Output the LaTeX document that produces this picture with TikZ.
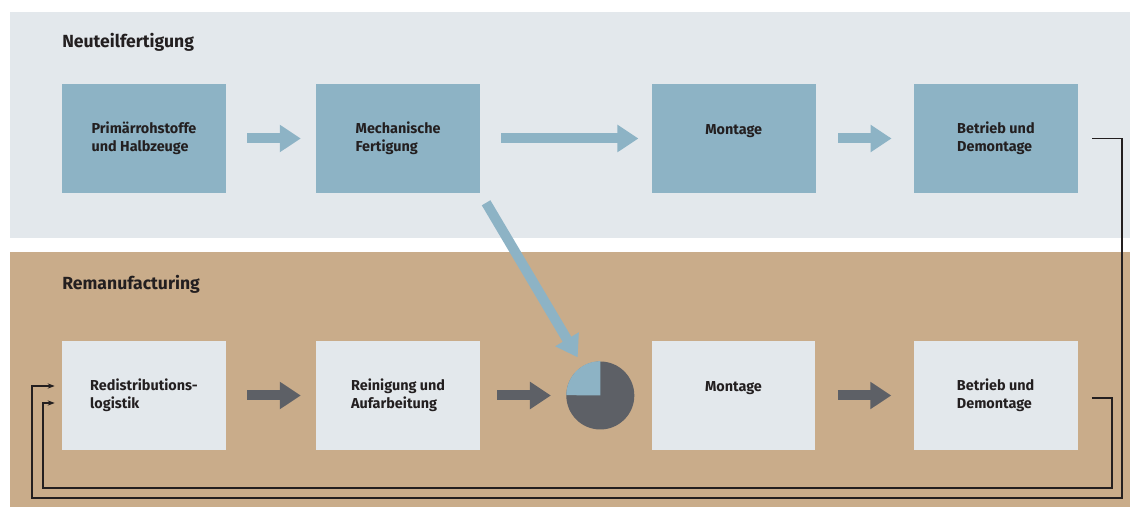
\documentclass[tikz,border=0pt]{standalone}
\usepackage{fontspec}
\setmainfont{Fira Sans}
\usetikzlibrary{positioning}
\usetikzlibrary{calc}
\usetikzlibrary{arrows.meta}
\definecolor{panelgray}{HTML}{E3E8EC}
\definecolor{panelbrown}{HTML}{C9AC8A}
\definecolor{boxblue}{HTML}{8DB3C5}
\definecolor{piedark}{HTML}{5D6066}
\definecolor{textdark}{HTML}{231F20}
\tikzset{
  box/.style        = { rectangle, minimum width=3.28cm, minimum height=2.18cm, inner sep=0pt },
  label/.style      = { align=left, text=textdark,
                        font=\bfseries\fontsize{8.2}{10.2}\selectfont },
  heading/.style    = { anchor=west, inner sep=0pt, text=textdark,
                        font=\bfseries\fontsize{10}{12}\selectfont },
}
\tikzset{
  newpart/.style    = { box, label, fill=boxblue },
  reman/.style      = { box, label, fill=panelgray },
  pie/.style        = { circle, minimum size=1.36cm, inner sep=0pt, fill=piedark },
  bluearrow/.style  = { draw=boxblue, line width=0.2cm, -{Triangle[length=0.42cm,width=0.52cm]} },
  darkarrow/.style  = { draw=piedark, line width=0.2cm, -{Triangle[length=0.42cm,width=0.52cm]} },
  feedback/.style   = { draw=textdark, line width=0.6pt, -{Stealth[length=4pt,width=3pt]} }
}

\begin{document}
\begin{tikzpicture}[x=0.02cm,y=-0.02cm]
  \useasboundingbox (0,0) rectangle (1130,509);

  % panels
  \fill[panelgray]  (10,12)  rectangle (1130,238);
  \fill[panelbrown] (10,252) rectangle (1130,507);

  \node (newtitle) [heading] at (62,42)  {Neuteilfertigung};
  \node (remtitle) [heading] at (62,284) {Remanufacturing};

  % Neuteilfertigung
  \node (prim)  [newpart] at (144,138.5)       {Primärrohstoffe\\und Halbzeuge};
  \node (mech)  [newpart,right=1.79cm of prim] {Mechanische\\Fertigung};
  \node (mont)  [newpart,right=3.42cm of mech] {Montage\\\mbox{}};
  \node (betr)  [newpart,right=1.95cm of mont] {Betrieb und\\Demontage};

  % Remanufacturing
  \node (redis) [reman] at (144,395.5)          {Redistributions-\\logistik};
  \node (rein)  [reman,right=1.79cm of redis]   {Reinigung und\\Aufarbeitung};
  \node (mix)   [pie,right=1.71cm of rein]      {};
  \node (mont2) [reman,right=0.33cm of mix]     {Montage\\\mbox{}};
  \node (betr2) [reman,right=1.95cm of mont2]   {Betrieb und\\Demontage};

  \fill[boxblue] (mix.center) -- (mix.north) arc[start angle=90,end angle=180,radius=0.68cm] -- cycle;

  \draw [bluearrow,shorten <=0.42cm,shorten >=0.3cm]  (prim) -- (mech);
  \draw [bluearrow,shorten <=0.42cm,shorten >=0.26cm] (mech) -- (mont);
  \draw [bluearrow,shorten <=0.44cm,shorten >=0.44cm] (mont) -- (betr);
  \draw [bluearrow,shorten <=0.22cm,shorten >=0.2cm]  (mech.south east) -- (mix);

  \draw [darkarrow,shorten <=0.42cm,shorten >=0.3cm]  (redis) -- (rein);
  \draw [darkarrow,shorten <=0.34cm,shorten >=0.3cm]  (rein) -- (mix);
  \draw [darkarrow,shorten <=0.44cm,shorten >=0.44cm] (mont2) -- (betr2);

  % loops back
  \coordinate (outerright) at (1122,498);
  \coordinate (outerleft)  at (32,498);
  \coordinate (innerright) at (1112,488);
  \coordinate (innerleft)  at (43,488);
  \draw [feedback] ([xshift=0.28cm]betr.east) -| (outerright) -- (outerleft)
        |- ([xshift=-0.14cm,yshift=0.19cm]redis.west);
  \draw [feedback] ([xshift=0.28cm,yshift=-0.05cm]betr2.east) -| (innerright) -- (innerleft)
        |- ([xshift=-0.14cm,yshift=-0.15cm]redis.west);

\end{tikzpicture}
\end{document}
